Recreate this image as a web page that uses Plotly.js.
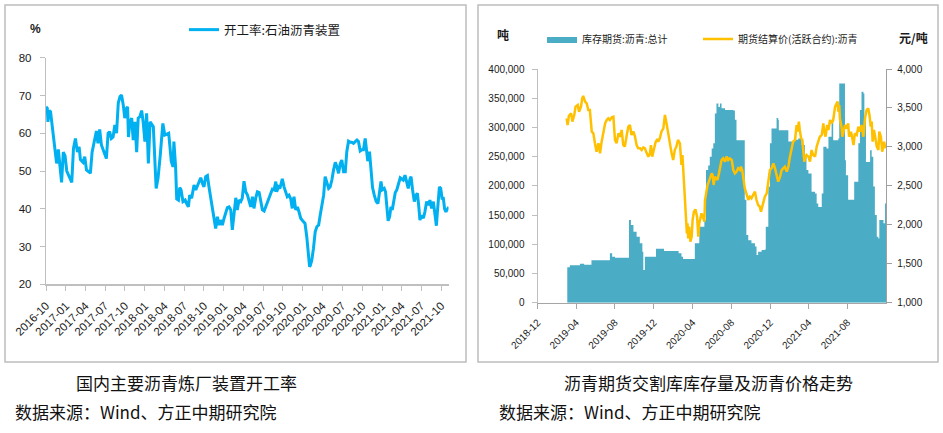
<!DOCTYPE html>
<html><head><meta charset="utf-8">
<script src="https://cdn.plot.ly/plotly-3.0.1.min.js"></script>
<style>html,body{margin:0;padding:0;background:#fff}#chart{width:943px;height:433px}</style>
</head><body><div id="chart"></div>
<script>
// ---- Left chart: 开工率:石油沥青装置 (%) ----
const leftDates = ['2016-10-01','2016-10-07','2016-10-10','2016-10-16','2016-10-22','2016-10-27','2016-11-04','2016-11-10','2016-11-19','2016-11-27','2016-12-05','2016-12-12','2016-12-20','2016-12-28','2017-01-05','2017-01-17','2017-01-28','2017-02-05','2017-02-14','2017-02-23','2017-03-03','2017-03-09','2017-03-21','2017-03-29','2017-04-06','2017-04-17','2017-04-24','2017-05-02','2017-05-14','2017-05-22','2017-05-29','2017-06-06','2017-06-14','2017-06-22','2017-06-29','2017-07-07','2017-07-15','2017-07-22','2017-07-30','2017-08-07','2017-08-15','2017-08-23','2017-08-31','2017-09-08','2017-09-15','2017-09-23','2017-09-30','2017-10-08','2017-10-13','2017-10-17','2017-10-24','2017-11-01','2017-11-08','2017-11-16','2017-11-24','2017-12-01','2017-12-09','2017-12-17','2017-12-24','2018-01-01','2018-01-09','2018-01-17','2018-01-25','2018-02-09','2018-02-22','2018-03-03','2018-03-13','2018-03-25','2018-04-03','2018-04-21','2018-05-03','2018-05-11','2018-05-15','2018-05-23','2018-05-28','2018-06-05','2018-06-11','2018-06-17','2018-06-26','2018-07-06','2018-07-13','2018-07-21','2018-07-27','2018-08-05','2018-08-16','2018-08-24','2018-09-01','2018-09-08','2018-09-16','2018-09-24','2018-10-01','2018-10-09','2018-10-17','2018-10-24','2018-11-01','2018-11-09','2018-11-17','2018-11-24','2018-12-02','2018-12-10','2018-12-17','2018-12-25','2019-01-02','2019-01-09','2019-01-17','2019-01-25','2019-02-02','2019-02-09','2019-02-17','2019-02-25','2019-03-04','2019-03-12','2019-03-20','2019-03-27','2019-04-04','2019-04-12','2019-04-20','2019-04-27','2019-05-05','2019-05-13','2019-05-20','2019-05-28','2019-06-05','2019-06-13','2019-06-20','2019-06-28','2019-07-06','2019-07-13','2019-07-21','2019-07-29','2019-08-05','2019-08-13','2019-08-21','2019-08-29','2019-09-02','2019-09-10','2019-09-17','2019-09-28','2019-10-06','2019-10-14','2019-10-21','2019-10-29','2019-11-06','2019-11-13','2019-11-21','2019-11-29','2019-12-07','2019-12-14','2019-12-22','2020-01-03','2020-01-11','2020-01-19','2020-01-26','2020-02-01','2020-02-04','2020-02-11','2020-02-19','2020-02-27','2020-03-06','2020-03-14','2020-03-21','2020-03-29','2020-04-06','2020-04-13','2020-04-21','2020-04-29','2020-05-06','2020-05-14','2020-05-22','2020-05-30','2020-06-06','2020-06-14','2020-06-22','2020-06-29','2020-07-07','2020-07-15','2020-07-22','2020-07-30','2020-08-07','2020-08-14','2020-08-22','2020-08-30','2020-09-07','2020-09-14','2020-09-22','2020-09-30','2020-10-07','2020-10-15','2020-10-23','2020-10-27','2020-11-04','2020-11-12','2020-11-18','2020-11-26','2020-12-05','2020-12-13','2020-12-20','2020-12-27','2021-01-02','2021-01-11','2021-01-17','2021-01-23','2021-01-29','2021-02-05','2021-02-11','2021-02-17','2021-02-23','2021-03-03','2021-03-10','2021-03-18','2021-03-26','2021-04-02','2021-04-09','2021-04-17','2021-04-25','2021-05-02','2021-05-10','2021-05-15','2021-05-22','2021-05-30','2021-06-07','2021-06-13','2021-06-19','2021-06-25','2021-07-03','2021-07-11','2021-07-18','2021-07-26','2021-08-03','2021-08-10','2021-08-18','2021-08-26','2021-09-03','2021-09-09','2021-09-15','2021-09-23','2021-09-29','2021-10-05','2021-10-11','2021-10-17','2021-10-23','2021-10-29','2021-11-05'];
const leftRate = [67,66.6,63,66,65.7,63.5,60,56,52,55.7,51.6,47,55,54,50,48.5,47,56,58.6,55,56.4,53,52.3,53.8,50.3,49.8,49.4,55,58.6,60.6,57.3,61,56.9,55.6,54.2,53.3,60,60.4,58.6,59,62.2,60,68,69.7,70.1,67.5,64,66.6,67,59,63,64,58.2,63,55,64,64.4,66,63,57.8,65.3,52,63,61.7,45.4,48.2,54.2,62.6,59.5,60,52.5,51.1,57.8,51,42.6,42.3,45.6,45,41.9,42.3,41.4,40.5,43.6,42.8,46.3,45,46.1,47.3,48.2,46.7,45.8,48.5,48.8,45.8,42.8,40.1,37.5,34.8,37.9,35.7,37,35.7,37.5,39.2,40.3,40.5,39.7,34.4,37.9,42.9,39.7,42.3,41.9,42.8,47.3,44.5,43.6,41.9,40.5,43.2,40.1,42.8,44.5,44.3,42.3,39.7,39.4,40.5,41.9,43.2,44.5,45.2,45,47.2,44.5,45.8,45.4,47.9,45.8,44.1,43.2,43.6,42.6,40.1,43.2,39.7,40.5,39.2,37.5,36.6,36.1,32.6,27.7,24.7,24.9,26.3,29.5,33.9,35.3,35.7,38.3,40.5,43.6,48.5,46.7,45.4,45.8,47.6,50.3,52.3,51.2,49.4,52,52.9,49.8,49.8,55.1,57.9,57.6,57.6,57.3,57.9,58.2,57.8,55.3,55.6,55.6,58.6,55.1,52.6,55.1,50.7,45.6,43.6,41.9,41.4,44.5,47.2,45,45.4,44.5,40.1,36.8,37.9,40.5,39.7,41.9,44.3,45,46.7,48.2,47.9,47.6,48.9,47.3,45.4,47.9,48.5,45,41.9,43.6,44.1,41,37,38.3,37.5,39.2,41.9,41,42.3,40.1,41.9,38.3,35.5,40.1,45.8,45.4,42.8,42.8,40,39.2,39.7,40.5];

// ---- Right chart: 库存期货:沥青:总计 (吨) ----
const invDates = ['2019-03-04','2019-03-12','2019-04-13','2019-04-26','2019-05-19','2019-07-16','2019-07-23','2019-08-01','2019-09-14','2019-09-20','2019-09-28','2019-10-08','2019-10-18','2019-10-26','2019-10-29','2019-11-03','2019-12-08','2020-01-02','2020-02-17','2020-02-26','2020-03-02','2020-04-08','2020-04-22','2020-05-08','2020-05-13','2020-05-20','2020-05-25','2020-05-31','2020-06-05','2020-06-10','2020-06-15','2020-06-21','2020-06-26','2020-07-01','2020-07-12','2020-08-07','2020-08-12','2020-08-17','2020-09-12','2020-09-17','2020-09-23','2020-10-03','2020-10-14','2020-10-19','2020-10-24','2020-11-04','2020-11-14','2020-11-17','2020-11-25','2020-11-30','2020-12-05','2020-12-21','2020-12-26','2020-12-28','2021-01-27','2021-02-17','2021-02-27','2021-03-10','2021-03-20','2021-03-25','2021-03-31','2021-04-10','2021-04-21','2021-04-26','2021-05-01','2021-05-12','2021-05-17','2021-05-27','2021-06-02','2021-06-12','2021-06-17','2021-07-03','2021-07-06','2021-07-24','2021-07-27','2021-08-03','2021-08-22','2021-09-04','2021-09-09','2021-09-14','2021-09-20','2021-09-23','2021-09-28','2021-10-11','2021-10-16','2021-10-21','2021-10-26','2021-11-01','2021-11-06','2021-11-09','2021-11-22','2021-11-27','2021-11-30'];
const invTons = [60500,64000,66800,65000,72500,84500,78800,77000,141500,133000,121600,113000,101600,87000,56000,78800,92500,88500,84500,78800,74800,101600,130000,141500,227000,235000,250000,264000,273000,324000,341000,335000,341000,333000,330000,329000,313000,278000,176000,116000,107000,101600,96000,81600,87000,90000,91000,130000,198600,273000,298000,316000,313000,295000,276000,279000,281000,270000,250000,227000,221000,190000,187000,170000,164000,187000,267000,264000,284000,313000,278000,281000,375000,244000,218000,176000,207000,273000,330000,361000,358000,318000,241000,261000,250000,199000,150000,113000,110000,141500,136000,170000,170000];

// ---- Right chart: 期货结算价(活跃合约):沥青 (元/吨) ----
const priceDates = ['2019-03-02','2019-03-05','2019-03-09','2019-03-16','2019-03-20','2019-03-26','2019-03-30','2019-04-06','2019-04-10','2019-04-16','2019-04-20','2019-04-23','2019-04-29','2019-05-04','2019-05-09','2019-05-14','2019-05-20','2019-05-25','2019-05-30','2019-06-04','2019-06-10','2019-06-15','2019-06-20','2019-06-25','2019-07-01','2019-07-06','2019-07-11','2019-07-16','2019-07-22','2019-07-27','2019-08-01','2019-08-06','2019-08-12','2019-08-17','2019-08-22','2019-08-27','2019-09-01','2019-09-07','2019-09-12','2019-09-17','2019-09-22','2019-09-28','2019-10-03','2019-10-08','2019-10-13','2019-10-19','2019-10-24','2019-10-29','2019-11-03','2019-11-09','2019-11-14','2019-11-19','2019-11-22','2019-11-26','2019-12-02','2019-12-07','2019-12-13','2019-12-15','2019-12-20','2019-12-25','2019-12-31','2020-01-05','2020-01-10','2020-01-15','2020-01-21','2020-01-26','2020-01-31','2020-02-05','2020-02-10','2020-02-15','2020-02-21','2020-02-24','2020-02-26','2020-02-29','2020-03-03','2020-03-08','2020-03-11','2020-03-14','2020-03-16','2020-03-18','2020-03-21','2020-03-25','2020-03-29','2020-04-01','2020-04-05','2020-04-10','2020-04-15','2020-04-19','2020-04-22','2020-04-26','2020-04-29','2020-05-03','2020-05-08','2020-05-10','2020-05-14','2020-05-18','2020-05-22','2020-05-27','2020-05-31','2020-06-03','2020-06-06','2020-06-10','2020-06-14','2020-06-18','2020-06-23','2020-06-28','2020-07-01','2020-07-06','2020-07-12','2020-07-17','2020-07-22','2020-07-27','2020-08-02','2020-08-07','2020-08-12','2020-08-17','2020-08-22','2020-08-28','2020-08-31','2020-09-04','2020-09-07','2020-09-12','2020-09-17','2020-09-23','2020-09-28','2020-10-03','2020-10-08','2020-10-14','2020-10-19','2020-10-24','2020-10-29','2020-11-02','2020-11-06','2020-11-10','2020-11-14','2020-11-20','2020-11-25','2020-11-30','2020-12-05','2020-12-11','2020-12-16','2020-12-21','2020-12-26','2021-01-01','2021-01-06','2021-01-11','2021-01-16','2021-01-22','2021-01-27','2021-02-01','2021-02-06','2021-02-11','2021-02-17','2021-02-22','2021-02-25','2021-03-01','2021-03-04','2021-03-08','2021-03-12','2021-03-15','2021-03-18','2021-03-22','2021-03-25','2021-03-31','2021-04-05','2021-04-10','2021-04-15','2021-04-21','2021-04-26','2021-05-01','2021-05-06','2021-05-12','2021-05-17','2021-05-20','2021-05-24','2021-05-29','2021-06-02','2021-06-07','2021-06-12','2021-06-17','2021-06-23','2021-06-28','2021-07-01','2021-07-03','2021-07-06','2021-07-08','2021-07-13','2021-07-16','2021-07-20','2021-07-24','2021-07-29','2021-08-03','2021-08-06','2021-08-12','2021-08-16','2021-08-20','2021-08-24','2021-08-30','2021-09-04','2021-09-09','2021-09-14','2021-09-20','2021-09-25','2021-09-30','2021-10-05','2021-10-09','2021-10-13','2021-10-16','2021-10-19','2021-10-23','2021-10-26','2021-11-01','2021-11-06','2021-11-09','2021-11-14','2021-11-18','2021-11-24','2021-11-28'];
const priceVals = [3367,3281,3397,3431,3324,3410,3517,3538,3452,3517,3624,3654,3581,3560,3474,3474,3196,3174,3046,2939,3046,2917,3067,3174,3303,3345,3367,3345,3380,3388,3089,3046,3174,3131,3217,3024,3003,3153,3260,3281,3153,3196,3131,3024,2982,2982,2960,2994,2982,2917,2875,2917,3024,2875,2982,3067,3100,3067,3110,3196,3238,3410,3303,3174,3046,2917,2832,2960,3003,3089,3046,2832,2768,2896,2703,2404,2104,1890,2019,1826,1976,1783,1847,2061,2168,2198,2104,1847,2019,2126,2147,2104,2040,2318,2447,2511,2554,2618,2661,2639,2511,2618,2596,2575,2661,2789,2832,2853,2810,2875,2832,2853,2832,2703,2661,2682,2725,2703,2746,2703,2596,2468,2404,2318,2361,2340,2383,2425,2318,2254,2233,2168,2233,2297,2361,2404,2575,2703,2725,2789,2725,2639,2554,2618,2703,2725,2746,2682,2746,2875,2982,3067,3089,3281,3196,3324,3217,3110,3089,2917,2810,2875,2896,2875,2810,2960,2896,2875,3003,3067,3131,3153,3303,3196,3131,3281,3217,3345,3303,3345,3517,3560,3581,3452,3538,3367,3260,3131,3196,3281,3238,3303,3131,3196,3110,3024,3174,3153,3260,3196,3281,3131,3367,3474,3495,3410,3260,3324,3067,3217,3153,3003,2960,3196,3131,2939,3067,2982];

// ---- Axis ranges ----
const leftRange = ['2016-10-01','2021-11-04'];
const rightRange = ['2018-12-01','2021-11-30'];

const W = 943, H = 433;
const px = v => v / W;
const py = v => 1 - v / H;
const CJK = '"Noto Sans CJK SC", "Noto Sans", sans-serif';
const NUM = '"Liberation Sans", Arial, sans-serif';
const axisGray = '#BFBFBF';

const traces = [
  {type:'scatter', mode:'lines', x:leftDates, y:leftRate, xaxis:'x', yaxis:'y',
   name:'开工率:石油沥青装置', legend:'legend',
   line:{color:'#00B0F0', width:3}},
  {type:'scatter', mode:'lines', x:invDates, y:invTons, xaxis:'x2', yaxis:'y2',
   name:'库存期货:沥青:总计', legend:'legend2',
   fill:'tozeroy', fillcolor:'#4BACC6', line:{color:'#4BACC6', width:0, shape:'hv'}},
  {type:'scatter', mode:'lines', x:priceDates, y:priceVals, xaxis:'x2', yaxis:'y3',
   name:'期货结算价(活跃合约):沥青', legend:'legend3',
   line:{color:'#FFC000', width:2.5}}
];

const tickCommon = {ticks:'outside', ticklen:5, tickcolor:axisGray, showline:true, linecolor:axisGray,
  linewidth:1.2, showgrid:false, zeroline:false};

function note(text, x, y, font, xanchor) {
  return {text:text, xref:'paper', yref:'paper', x:px(x), y:py(y), xanchor:xanchor || 'center',
    yanchor:'middle', showarrow:false, font:font};
}
const capFont = {family:CJK, size:17, color:'#111'};
const legFontR = {family:CJK, size:10, color:'#1a1a1a'};

const layout = {
  width:W, height:H, margin:{l:0,r:0,t:0,b:0}, paper_bgcolor:'#fff', plot_bgcolor:'#fff',
  showlegend:true,
  xaxis: Object.assign({}, tickCommon, {domain:[px(46), px(448.5)], anchor:'y', type:'date',
    range:leftRange, tick0:'2016-10-01', dtick:'M3', tickformat:'%Y-%m', tickangle:-45,
    ticklabelstandoff:4, tickfont:{family:NUM, size:11.5, color:'#1a1a1a'}}),
  yaxis: Object.assign({}, tickCommon, {domain:[py(284.3), py(57.7)], anchor:'x',
    range:[20,80], dtick:10, ticklabelstandoff:6, tickfont:{family:NUM, size:11.5, color:'#1a1a1a'}}),
  xaxis2: Object.assign({}, tickCommon, {domain:[px(537.7), px(886)], anchor:'y2', type:'date',
    range:rightRange, tick0:'2018-12-01', dtick:'M4', tickformat:'%Y-%m', tickangle:-45,
    linecolor:'#A6A6A6', tickcolor:'#A6A6A6',
    ticklabelstandoff:4, tickfont:{family:NUM, size:10, color:'#1a1a1a'}}),
  yaxis2: Object.assign({}, tickCommon, {domain:[py(302.7), py(69)], anchor:'x2',
    range:[0,400000], dtick:50000, tickformat:',', ticklabelstandoff:5,
    tickfont:{family:NUM, size:10, color:'#1a1a1a'}}),
  yaxis3: Object.assign({}, tickCommon, {overlaying:'y2', side:'right', anchor:'x2',
    range:[1000,4000], dtick:500, tickformat:',', ticklabelstandoff:3,
    linecolor:'#A0A0A0', tickcolor:'#A0A0A0',
    tickfont:{family:NUM, size:10, color:'#1a1a1a'}}),
  legend: {x:px(184), y:py(30), xanchor:'left', yanchor:'middle', orientation:'h',
    bgcolor:'rgba(0,0,0,0)', font:{family:CJK, size:12.5, color:'#1a1a1a'}},
  legend2: {x:px(542), y:py(39), xanchor:'left', yanchor:'middle', orientation:'h',
    bgcolor:'rgba(0,0,0,0)', font:legFontR},
  legend3: {x:px(698), y:py(39), xanchor:'left', yanchor:'middle', orientation:'h',
    bgcolor:'rgba(0,0,0,0)', font:legFontR},
  shapes: [
    {type:'rect', xref:'paper', yref:'paper', x0:px(5), x1:px(466), y0:py(362), y1:py(5),
     line:{color:'#BDBDBD', width:1.5}},
    {type:'rect', xref:'paper', yref:'paper', x0:px(478), x1:px(938), y0:py(362), y1:py(5),
     line:{color:'#BDBDBD', width:1.5}}
  ],
  annotations: [
    note('<b>%</b>', 35, 29, {family:NUM, size:12, color:'#1a1a1a'}),
    note('<b>吨</b>', 503, 35, {family:CJK, size:12, color:'#1a1a1a'}),
    note('<b>元/吨</b>', 913, 38, {family:CJK, size:12, color:'#1a1a1a'}),
    note('国内主要沥青炼厂装置开工率', 186, 382, capFont),
    note('沥青期货交割库库存量及沥青价格走势', 708, 382, capFont),
    note('数据来源：Wind、方正中期研究院', 13, 411, capFont, 'left'),
    note('数据来源：Wind、方正中期研究院', 497, 411, capFont, 'left')
  ]
};

Plotly.newPlot('chart', traces, layout, {displayModeBar:false, responsive:false, staticPlot:true});
</script>
</body></html>
